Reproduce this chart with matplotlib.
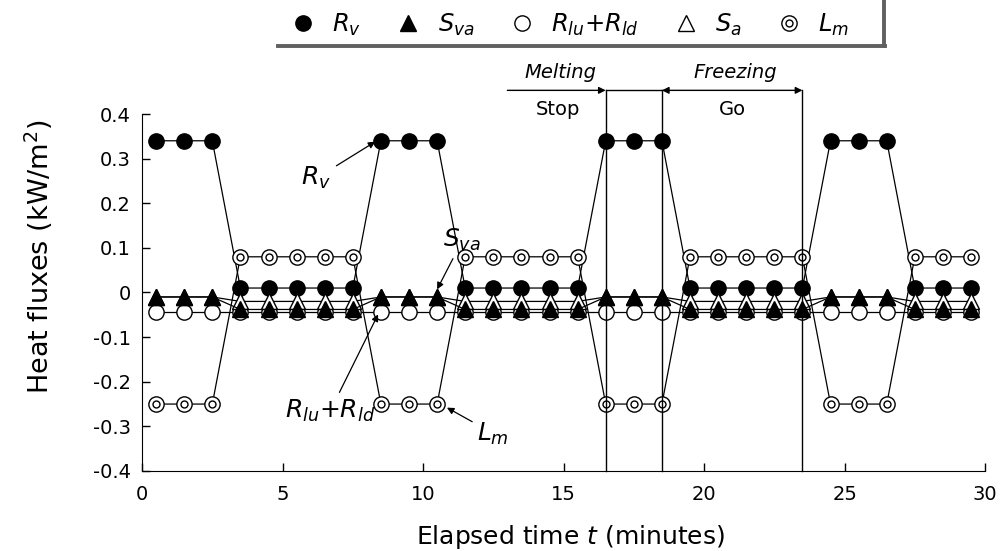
import matplotlib
matplotlib.use('Agg')
import matplotlib.pyplot as plt
from matplotlib.lines import Line2D
from matplotlib.legend_handler import HandlerTuple

plt.rcParams['axes.unicode_minus'] = False
plt.rcParams['mathtext.fontset'] = 'dejavusans'

# elapsed time (minutes), one sample per minute
t = [0.5, 1.5, 2.5, 3.5, 4.5, 5.5, 6.5, 7.5, 8.5, 9.5,
     10.5, 11.5, 12.5, 13.5, 14.5, 15.5, 16.5, 17.5, 18.5, 19.5,
     20.5, 21.5, 22.5, 23.5, 24.5, 25.5, 26.5, 27.5, 28.5, 29.5]

# heat fluxes (kW/m2)
Rv = [0.34, 0.34, 0.34, 0.01, 0.01, 0.01, 0.01, 0.01, 0.34, 0.34,
      0.34, 0.01, 0.01, 0.01, 0.01, 0.01, 0.34, 0.34, 0.34, 0.01,
      0.01, 0.01, 0.01, 0.01, 0.34, 0.34, 0.34, 0.01, 0.01, 0.01]
Sva = [-0.01, -0.01, -0.01, -0.038, -0.038, -0.038, -0.038, -0.038, -0.01, -0.01,
       -0.01, -0.038, -0.038, -0.038, -0.038, -0.038, -0.01, -0.01, -0.01, -0.038,
       -0.038, -0.038, -0.038, -0.038, -0.01, -0.01, -0.01, -0.038, -0.038, -0.038]
Rlud = [-0.043] * 30
Sa = [-0.01, -0.01, -0.01, -0.02, -0.02, -0.02, -0.02, -0.02, -0.01, -0.01,
      -0.01, -0.02, -0.02, -0.02, -0.02, -0.02, -0.01, -0.01, -0.01, -0.02,
      -0.02, -0.02, -0.02, -0.02, -0.01, -0.01, -0.01, -0.02, -0.02, -0.02]
Lm = [-0.25, -0.25, -0.25, 0.08, 0.08, 0.08, 0.08, 0.08, -0.25, -0.25,
      -0.25, 0.08, 0.08, 0.08, 0.08, 0.08, -0.25, -0.25, -0.25, 0.08,
      0.08, 0.08, 0.08, 0.08, -0.25, -0.25, -0.25, 0.08, 0.08, 0.08]

event_t = [16.5, 18.5, 23.5]
yticks = [-0.4, -0.3, -0.2, -0.1, 0, 0.1, 0.2, 0.3, 0.4]
xticks = [0, 5, 10, 15, 20, 25, 30]

fig = plt.figure(figsize=(10.06, 5.51), dpi=100)
ax = fig.add_axes([0.1412, 0.1452, 0.8380, 0.6479])

lw = 0.9
ms = 11
ax.plot(t, Rv, 'k-o', lw=lw, ms=ms, mfc='k', mec='k')
ax.plot(t, Rlud, 'k-o', lw=lw, ms=ms, mfc='w', mec='k', mew=1)
ax.plot(t, Sa, 'k-^', lw=lw, ms=ms, mfc='w', mec='k', mew=1)
ax.plot(t, Sva, 'k-^', lw=lw, ms=ms, mfc='k', mec='k')
ax.plot(t, Lm, 'k-o', lw=lw, ms=ms, mfc='w', mec='k', mew=1)
ax.plot(t, Lm, 'o', ms=5, mfc='w', mec='k', mew=1)

ax.set_xlim(0, 30)
ax.set_ylim(-0.4, 0.4)
ax.set_xticks(xticks)
ax.set_yticks(yticks)
ax.set_yticklabels(['0' if v == 0 else '%.1f' % v for v in yticks])
ax.spines['top'].set_visible(False)
ax.spines['right'].set_visible(False)
ax.tick_params(direction='in', length=6, width=1, labelsize=14)
ax.tick_params(axis='y', pad=8)
ax.tick_params(axis='x', pad=10)

ax.set_xlabel('Elapsed time $t$ (minutes)', fontsize=18)
ax.set_ylabel('Heat fluxes (kW/m$^2$)', fontsize=19.5)
ax.xaxis.set_label_coords(0.508, -0.145)
ax.yaxis.set_label_coords(-0.103, 0.60)

# stop / go markers
top = 0.453
for x in event_t:
    ax.plot([x, x], [-0.4, top], 'k-', lw=1, clip_on=False)
ax.plot([event_t[0], event_t[1]], [top, top], 'k-', lw=1, clip_on=False)
ax.annotate('', xy=(event_t[0], top), xytext=(13, top), annotation_clip=False,
            arrowprops=dict(arrowstyle='-|>', lw=1, color='k', shrinkA=0, shrinkB=0,
                            mutation_scale=10))
ax.annotate('', xy=(event_t[2], top), xytext=(event_t[1], top), annotation_clip=False,
            arrowprops=dict(arrowstyle='<|-|>', lw=1, color='k', shrinkA=0, shrinkB=0,
                            mutation_scale=10))
ax.text(14.9, 0.493, 'Melting', style='italic', fontsize=14, ha='center', va='center')
ax.text(14.8, 0.41, 'Stop', fontsize=14, ha='center', va='center')
ax.text(21.1, 0.493, 'Freezing', style='italic', fontsize=14, ha='center', va='center')
ax.text(21.0, 0.41, 'Go', fontsize=14, ha='center', va='center')

arw = dict(arrowstyle='-|>', lw=0.9, color='k', shrinkA=2, shrinkB=0, mutation_scale=10)
ax.annotate('$R_v$', xy=(8.3, 0.338), xytext=(6.2, 0.256), fontsize=18,
            ha='center', va='center', arrowprops=arw)
ax.annotate('$S_{va}$', xy=(10.5, 0.007), xytext=(11.4, 0.117), fontsize=18,
            ha='center', va='center', arrowprops=arw)
ax.annotate('$R_{lu}$+$R_{ld}$', xy=(8.4, -0.049), xytext=(6.7, -0.265), fontsize=18,
            ha='center', va='center', arrowprops=arw)
ax.annotate('$L_m$', xy=(10.85, -0.258), xytext=(12.5, -0.316), fontsize=18,
            ha='center', va='center', arrowprops=arw)

# legend
h_rv = Line2D([], [], ls='none', marker='o', ms=ms, mfc='k', mec='k')
h_sva = Line2D([], [], ls='none', marker='^', ms=ms, mfc='k', mec='k')
h_rl = Line2D([], [], ls='none', marker='o', ms=ms, mfc='w', mec='k')
h_sa = Line2D([], [], ls='none', marker='^', ms=ms, mfc='w', mec='k')
h_lm1 = Line2D([], [], ls='none', marker='o', ms=ms, mfc='w', mec='k')
h_lm2 = Line2D([], [], ls='none', marker='o', ms=5, mfc='w', mec='k')
fig.legend([h_rv, h_sva, h_rl, h_sa, (h_lm1, h_lm2)],
           ['$R_v$', '$S_{va}$', '$R_{lu}$+$R_{ld}$', '$S_a$', '$L_m$'],
           handler_map={tuple: HandlerTuple(ndivide=1)},
           ncol=5, loc='center', bbox_to_anchor=(570 / 1006, 1 - 25 / 551),
           frameon=False, fontsize=17.5, handlelength=1.0, handletextpad=0.7,
           columnspacing=1.45)
fig.add_artist(Line2D([278 / 1006, 885 / 1006], [1 - 46.5 / 551] * 2,
                      transform=fig.transFigure, color='#606060', lw=2.8))
fig.add_artist(Line2D([883.5 / 1006] * 2, [1, 1 - 46.5 / 551],
                      transform=fig.transFigure, color='#606060', lw=2.8))

fig.savefig('out.png', dpi=100)
